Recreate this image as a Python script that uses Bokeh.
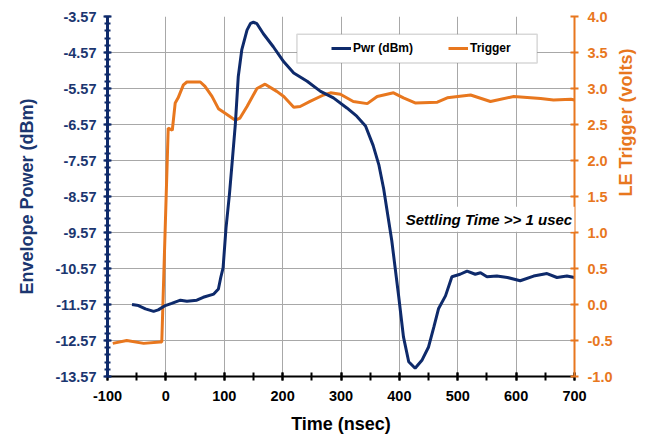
import math
from bokeh.plotting import figure
from bokeh.models import (Range1d, LinearAxis, FixedTicker, PrintfTickFormatter,
                          Legend, LegendItem, Label, BoxAnnotation)
from bokeh.embed import file_html
from bokeh.resources import INLINE

# ---------------- data ----------------
pwr_t = [-58, -47, -35, -21, -13, -1, 10, 25, 36, 53, 64, 82, 90, 94, 98, 103, 109, 114,
         119, 124, 130, 139, 145, 150, 156, 167, 184, 202, 219, 242, 265, 287, 310, 327,
         342, 355, 365, 373, 387, 399, 407, 416, 427, 439, 450, 459, 467, 479, 490, 504,
         516, 530, 539, 550, 567, 585, 607, 630, 653, 670, 687, 700]
pwr_dbm = [-11.57, -11.60, -11.69, -11.76, -11.72, -11.60, -11.54, -11.45, -11.48, -11.45,
           -11.37, -11.28, -11.14, -10.82, -10.55, -9.45, -8.49, -7.53, -6.56, -5.24, -4.50,
           -3.95, -3.76, -3.73, -3.77, -4.05, -4.41, -4.83, -5.14, -5.37, -5.65, -5.83, -6.11,
           -6.34, -6.61, -7.15, -7.70, -8.35, -9.80, -11.37, -12.47, -13.16, -13.34, -13.11,
           -12.75, -12.20, -11.69, -11.33, -10.80, -10.73, -10.64, -10.73, -10.69, -10.80,
           -10.78, -10.82, -10.91, -10.78, -10.71, -10.82, -10.78, -10.82]

trig_t = [-91, -67, -38, -10, -7, 4, 11, 16, 21, 30, 36, 59, 67, 79, 90, 99, 119, 127, 139,
          156, 170, 190, 202, 219, 230, 247, 270, 282, 299, 321, 345, 362, 390, 407, 427,
          465, 482, 522, 556, 596, 642, 664, 694, 700]
trig_v = [-0.54, -0.50, -0.54, -0.52, -0.52, 2.45, 2.42, 2.80, 2.87, 3.05, 3.09, 3.09, 3.03,
          2.89, 2.72, 2.67, 2.56, 2.59, 2.75, 3.00, 3.06, 2.96, 2.89, 2.74, 2.75, 2.82, 2.91,
          2.94, 2.92, 2.82, 2.79, 2.89, 2.94, 2.87, 2.80, 2.81, 2.87, 2.91, 2.82, 2.89, 2.86,
          2.84, 2.85, 2.84]

left_ticks = [round(-13.57 + i, 2) for i in range(11)]
left_minor = [round(-13.57 + 0.2 * i, 2) for i in range(51)]
right_ticks = [-1.0, -0.5, 0.0, 0.5, 1.0, 1.5, 2.0, 2.5, 3.0, 3.5, 4.0]
x_ticks = list(range(-100, 701, 100))
x_minor = list(range(-100, 701, 50))

NAVY = "#0E2A6B"
NAVY_TXT = "#1B3670"
ORANGE = "#E8771E"
FONT = "Liberation Sans"

p = figure(width=649, height=436, output_backend="svg", toolbar_location=None,
           x_range=Range1d(-100, 700), y_range=Range1d(-13.57, -3.57),
           min_border_left=107, min_border_right=75, min_border_top=16, min_border_bottom=56)
p.extra_y_ranges = {"trig": Range1d(-1.0, 4.0)}
p.outline_line_color = None
p.background_fill_color = "white"

# grids
p.xgrid.ticker = FixedTicker(ticks=x_ticks)
p.ygrid.ticker = FixedTicker(ticks=left_ticks[:-1])
p.xgrid.grid_line_color = "#A8A8A8"
p.ygrid.grid_line_color = "#A8A8A8"
p.xgrid.grid_line_width = 1
p.ygrid.grid_line_width = 1

# bottom axis
xa = p.xaxis[0]
xa.ticker = FixedTicker(ticks=x_ticks, minor_ticks=x_minor)
xa.formatter = PrintfTickFormatter(format="%d")
xa.axis_label = "Time (nsec)"
xa.axis_line_color = "black"
xa.axis_line_width = 2
xa.major_tick_line_color = "black"
xa.minor_tick_line_color = "black"
xa.major_tick_line_width = 2
xa.minor_tick_line_width = 2
xa.major_tick_in = 4
xa.major_tick_out = 4
xa.minor_tick_in = 4
xa.minor_tick_out = 4
xa.major_label_standoff = 10
xa.axis_label_standoff = 10
xa.major_label_text_font = FONT
xa.major_label_text_font_style = "bold"
xa.major_label_text_font_size = "14.5px"
xa.major_label_text_color = "black"
xa.axis_label_text_font = FONT
xa.axis_label_text_font_style = "bold"
xa.axis_label_text_font_size = "18px"
xa.axis_label_text_color = "black"

# left axis
ya = p.yaxis[0]
ya.ticker = FixedTicker(ticks=left_ticks, minor_ticks=left_minor)
ya.formatter = PrintfTickFormatter(format="%.2f")
ya.axis_label = "Envelope Power (dBm)"
ya.axis_line_color = NAVY
ya.axis_line_width = 3
ya.major_tick_line_color = NAVY
ya.minor_tick_line_color = NAVY
ya.major_tick_line_width = 2
ya.minor_tick_line_width = 2
ya.major_tick_in = 4
ya.major_tick_out = 4
ya.minor_tick_in = 3
ya.minor_tick_out = 3
ya.major_label_standoff = 7
ya.axis_label_standoff = 15
ya.major_label_text_font = FONT
ya.major_label_text_font_style = "bold"
ya.major_label_text_font_size = "14.5px"
ya.major_label_text_color = NAVY_TXT
ya.axis_label_text_font = FONT
ya.axis_label_text_font_style = "bold"
ya.axis_label_text_font_size = "18px"
ya.axis_label_text_color = NAVY_TXT

# right axis
ra = LinearAxis(y_range_name="trig", ticker=FixedTicker(ticks=right_ticks),
                formatter=PrintfTickFormatter(format="%.1f"), axis_label="LE Trigger (volts)")
ra.axis_line_color = ORANGE
ra.axis_line_width = 2
ra.major_tick_line_color = ORANGE
ra.major_tick_line_width = 2
ra.major_tick_in = 4
ra.major_tick_out = 4
ra.minor_tick_line_color = None
ra.major_label_standoff = 9
ra.axis_label_standoff = 11
ra.major_label_text_font = FONT
ra.major_label_text_font_style = "bold"
ra.major_label_text_font_size = "14.5px"
ra.major_label_text_color = ORANGE
ra.axis_label_text_font = FONT
ra.axis_label_text_font_style = "bold"
ra.axis_label_text_font_size = "18px"
ra.axis_label_text_color = ORANGE
try:
    ra.axis_label_orientation = math.pi / 2
except Exception:
    pass
p.add_layout(ra, "right")

# lines
r_trig = p.line(trig_t, trig_v, y_range_name="trig", line_color=ORANGE, line_width=3)
r_pwr = p.line(pwr_t, pwr_dbm, line_color=NAVY, line_width=3)

# legend box + legend
box = BoxAnnotation(left=224.5, right=636, top=-4.064, bottom=-4.861,
                    fill_color="white", fill_alpha=1.0, line_color="#7F7F7F", line_width=1.5)
p.add_layout(box)
legend = Legend(items=[LegendItem(label="Pwr (dBm)", renderers=[r_pwr]),
                       LegendItem(label="Trigger", renderers=[r_trig])],
                orientation="horizontal", location=(224, 321), padding=0, margin=0,
                spacing=35, glyph_width=20, glyph_height=14, label_standoff=2,
                label_text_font=FONT, label_text_font_size="12px",
                label_text_font_style="bold", label_text_color="black",
                border_line_color=None, background_fill_alpha=0)
p.add_layout(legend)

# annotation
note = Label(x=404, y=-9.2, text="Settling Time >> 1 usec", text_font=FONT,
             text_font_size="15px", text_font_style="bold italic", text_baseline="middle",
             text_color="black", background_fill_color="white", background_fill_alpha=1.0)
try:
    note.padding = 4
except Exception:
    pass
p.add_layout(note)

open("out.html", "w").write(file_html(p, INLINE))
